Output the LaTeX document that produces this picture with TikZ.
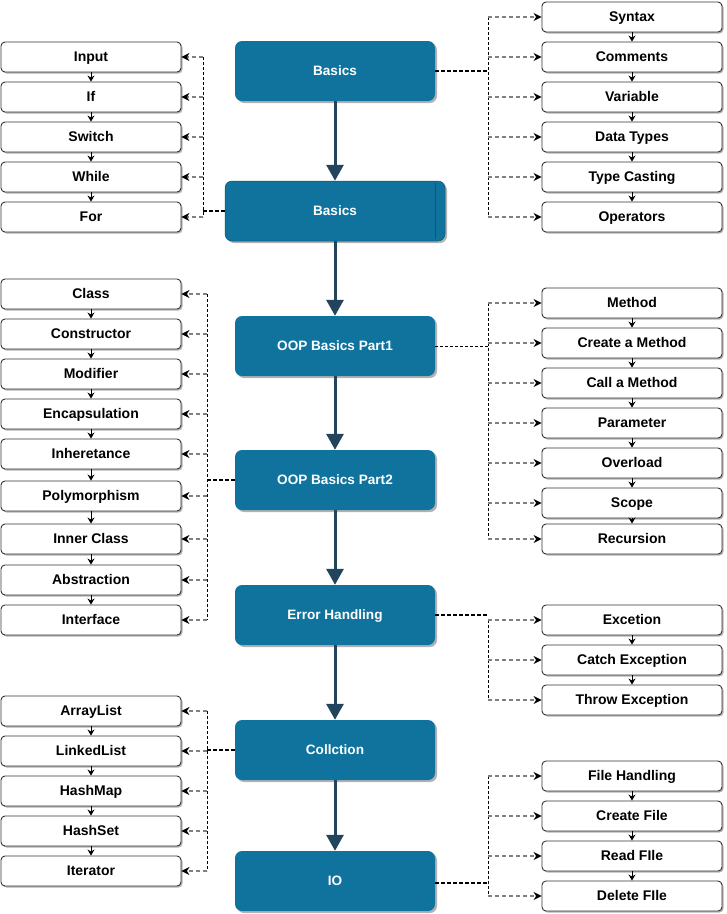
\documentclass[tikz,border=0pt]{standalone}
\usepackage{fontspec}
\setmainfont{Liberation Sans}
\usetikzlibrary{arrows.meta,shadows}
\definecolor{mainblue}{HTML}{10739E}
\definecolor{mainedge}{HTML}{0B5878}
\definecolor{arrowblue}{HTML}{23445D}
\begin{document}
\begin{tikzpicture}[x=1pt,y=-1pt,
  sub/.style={rectangle, rounded corners=4pt, draw=black!80, line width=0.9pt, fill=white,
    minimum width=180pt, minimum height=30pt, inner sep=0pt, text height=10pt, text depth=1pt,
    font=\fontsize{14}{16}\selectfont\bfseries,
    drop shadow={shadow xshift=1.5pt, shadow yshift=-1.5pt, fill=black!60, opacity=0.5}},
  mainbox/.style={rectangle, rounded corners=7pt, fill=mainblue,
    minimum width=200pt, minimum height=60pt, inner sep=0pt, text=white, text height=10pt, text depth=1pt,
    font=\fontsize{13.6}{16}\selectfont\bfseries,
    drop shadow={shadow xshift=2pt, shadow yshift=-2pt, fill=black!60, opacity=0.5}},
  mainarrow/.style={line width=3pt, draw=arrowblue, -{Triangle[length=16pt,width=17pt]}},
  chain/.style={line width=1pt, draw=black, -{Stealth[length=6pt,width=7pt]}},
  trunk/.style={line width=0.9pt, draw=black, dash pattern=on 3pt off 2pt},
  maintrunk/.style={line width=1.4pt, draw=black, dash pattern=on 4pt off 2pt},
  branch/.style={line width=1.2pt, draw=black!50, dash pattern=on 4pt off 3pt, -{Stealth[length=8pt,width=8pt,color=black]}}
]
\useasboundingbox (0,0) rectangle (727,914);

% main column
\node[mainbox] (b1) at (335,71) {Basics};
\node[mainbox, minimum width=220pt, draw=mainedge, line width=0.5pt] (b2) at (335,211) {Basics};
\coordinate (b2edgeT) at (435,183);
\coordinate (b2edgeB) at (435,239);
\draw[mainedge, line width=1pt] (b2edgeT) -- (b2edgeB);
\node[mainbox] (oop1) at (335,346) {OOP Basics Part1};
\node[mainbox] (oop2) at (335,480) {OOP Basics Part2};
\node[mainbox] (eh) at (335,615) {Error Handling};
\node[mainbox] (coll) at (335,750) {Collction};
\node[mainbox] (io) at (335,881) {IO};

\draw[mainarrow] (b1) -- (b2);
\draw[mainarrow] (b2) -- (oop1);
\draw[mainarrow] (oop1) -- (oop2);
\draw[mainarrow] (oop2) -- (eh);
\draw[mainarrow] (eh) -- (coll);
\draw[mainarrow] (coll) -- (io);

% left group 1
\foreach \n/\t/\y in {la/Input/57, lb/If/97, lc/Switch/137, ld/While/177, le/For/217}
  \node[sub] (\n) at (91,\y) {\t};
\foreach \a/\b in {la/lb, lb/lc, lc/ld, ld/le} \draw[chain] (\a.south) -- (\b.north);

% right group 1
\foreach \n/\t/\y in {ra/Syntax/17, rb/Comments/57, rc/Variable/97, rd/Data Types/137, re/Type Casting/177, rf/Operators/217}
  \node[sub] (\n) at (632,\y) {\t};
\foreach \a/\b in {ra/rb, rb/rc, rc/rd, rd/re, re/rf} \draw[chain] (\a.south) -- (\b.north);

% left group 2
\foreach \n/\t/\y in {ma/Class/294, mb/Constructor/334, mc/Modifier/374, md/Encapsulation/414, me/Inheretance/454, mf/Polymorphism/496, mg/Inner Class/539, mh/Abstraction/580, mi/Interface/620}
  \node[sub] (\n) at (91,\y) {\t};
\foreach \a/\b in {ma/mb, mb/mc, mc/md, md/me, me/mf, mf/mg, mg/mh, mh/mi} \draw[chain] (\a.south) -- (\b.north);

% right group 2
\foreach \n/\t/\y in {na/Method/303, nb/Create a Method/343, nc/Call a Method/383, nd/Parameter/423, ne/Overload/463, nf/Scope/503, ng/Recursion/539}
  \node[sub] (\n) at (632,\y) {\t};
\foreach \a/\b in {na/nb, nb/nc, nc/nd, nd/ne, ne/nf, nf/ng} \draw[chain] (\a.south) -- (\b.north);

% right group 3
\foreach \n/\t/\y in {pa/Excetion/620, pb/Catch Exception/660, pc/Throw Exception/700}
  \node[sub] (\n) at (632,\y) {\t};
\foreach \a/\b in {pa/pb, pb/pc} \draw[chain] (\a.south) -- (\b.north);

% left group 3
\foreach \n/\t/\y in {qa/ArrayList/711, qb/LinkedList/751, qc/HashMap/791, qd/HashSet/831, qe/Iterator/871}
  \node[sub] (\n) at (91,\y) {\t};
\foreach \a/\b in {qa/qb, qb/qc, qc/qd, qd/qe} \draw[chain] (\a.south) -- (\b.north);

% right group 4
\foreach \n/\t/\y in {sa/File Handling/776, sb/Create File/816, sc/Read FIle/856, sd/Delete FIle/896}
  \node[sub] (\n) at (632,\y) {\t};
\foreach \a/\b in {sa/sb, sb/sc, sc/sd} \draw[chain] (\a.south) -- (\b.north);

% trunks
\coordinate (tr) at (488,0);
\coordinate (tl1) at (203,0);
\coordinate (tl2) at (207,0);

% basics right
\draw[maintrunk] (b1.east) -- (tr |- b1.east);
\draw[trunk] (tr |- ra) -- (tr |- rf);
\foreach \n in {ra,rb,rc,rd,re,rf} \draw[branch] (tr |- \n.west) -- (\n.west);

% basics left
\draw[maintrunk] (b2.west) -- (tl1 |- b2.west);
\draw[trunk] (tl1 |- la) -- (tl1 |- le);
\foreach \n in {la,lb,lc,ld,le} \draw[branch] (tl1 |- \n.east) -- (\n.east);

% oop1 right
\draw[trunk] (oop1.east) -- (tr |- oop1.east);
\draw[trunk] (tr |- na) -- (tr |- ng);
\foreach \n in {na,nb,nc,nd,ne,nf,ng} \draw[branch] (tr |- \n.west) -- (\n.west);

% oop2 left
\draw[maintrunk] (oop2.west) -- (tl2 |- oop2.west);
\draw[trunk] (tl2 |- ma) -- (tl2 |- mi);
\foreach \n in {ma,mb,mc,md,me,mf,mg,mh,mi} \draw[branch] (tl2 |- \n.east) -- (\n.east);

% error handling right
\draw[maintrunk] (eh.east) -- (tr |- eh.east);
\draw[trunk] (tr |- pa) -- (tr |- pc);
\foreach \n in {pa,pb,pc} \draw[branch] (tr |- \n.west) -- (\n.west);

% collection left
\draw[maintrunk] (coll.west) -- (tl2 |- coll.west);
\draw[trunk] (tl2 |- qa) -- (tl2 |- qe);
\foreach \n in {qa,qb,qc,qd,qe} \draw[branch] (tl2 |- \n.east) -- (\n.east);

% io right
\coordinate (ioj) at (488,883);
\draw[maintrunk] (io.east |- ioj) -- (ioj);
\draw[trunk] (tr |- sa) -- (tr |- sd);
\foreach \n in {sa,sb,sc,sd} \draw[branch] (tr |- \n.west) -- (\n.west);
\end{tikzpicture}
\end{document}
